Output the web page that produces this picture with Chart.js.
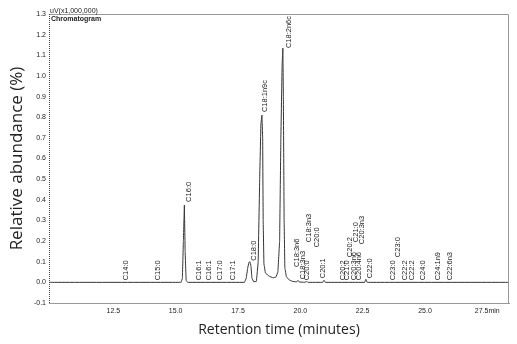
<!DOCTYPE html>
<html>
<head>
<meta charset="utf-8">
<script src="https://cdn.jsdelivr.net/npm/chart.js@4"></script>
<style>
  html, body { margin: 0; padding: 0; background: #fff; }
  #wrap { width: 517px; height: 344px; position: relative; }
</style>
</head>
<body>
<div id="wrap"><canvas id="gc"></canvas></div>
<script>
// ── Chromatogram trace ──────────────────────────────────────
const retentionTime = [
  9.92, 15.22, 15.27, 15.31, 15.35, 15.38, 15.42, 15.48,
  17.76, 17.83, 17.89, 17.94, 17.98, 18.02, 18.06, 18.13,
  18.24, 18.31, 18.37, 18.42, 18.46, 18.49, 18.51, 18.54, 18.60, 18.75, 18.90, 19.02,
  19.10, 19.17, 19.22, 19.27, 19.30, 19.32, 19.35, 19.38, 19.44, 19.55, 19.68,
  19.85, 19.90, 19.95, 20.20, 20.25, 20.30, 20.90, 20.95, 21.00,
  22.58, 22.63, 22.68, 28.37
];
const signal = [
  0, 0, 0.02, 0.20, 0.375, 0.15, 0.01, 0,
  0, 0.02, 0.07, 0.097, 0.10, 0.08, 0.02, 0.003,
  0.005, 0.10, 0.50, 0.77, 0.81, 0.70, 0.30, 0.09, 0.045, 0.03, 0.022, 0.025,
  0.05, 0.20, 0.70, 1.05, 1.135, 0.90, 0.30, 0.07, 0.028, 0.012, 0.005,
  0.002, 0.010, 0.002, 0, 0.006, 0, 0, 0.010, 0,
  0, 0.015, 0, 0
];

// ── Peak annotations ───────────────────────────────────────
const peakNames = [
  'C14:0', 'C15:0', 'C16:0', 'C16:1', 'C16:1', 'C17:0', 'C17:1', 'C18:0',
  'C18:1n9c', 'C18:2n6c', 'C18:3n6', 'C18:3n3', 'C20:0', 'C18:3n3', 'C20:0', 'C20:1',
  'C20:2', 'C21:0', 'C20:2', 'C20:3n6', 'C21:0', 'C20:4n6', 'C20:3n3', 'C22:0',
  'C23:0', 'C23:0', 'C22:2', 'C22:2', 'C24:0', 'C24:1n9', 'C22:6n3'
];
const peakLabelTime = [
  13.02, 14.27, 15.55, 15.94, 16.35, 16.79, 17.31, 18.15,
  18.60, 19.54, 19.88, 20.12, 20.28, 20.36, 20.68, 20.92,
  21.72, 21.88, 22.00, 22.16, 22.24, 22.36, 22.48, 22.80,
  23.72, 23.92, 24.20, 24.49, 24.93, 25.53, 26.01
];
const peakLabelLevel = [
  0.005, 0.005, 0.385, 0.005, 0.005, 0.005, 0.005, 0.10,
  0.82, 1.13, 0.07, 0.01, 0.005, 0.19, 0.165, 0.015,
  0.005, 0.005, 0.117, 0.005, 0.19, 0.005, 0.18, 0.015,
  0.005, 0.117, 0.005, 0.005, 0.005, 0.005, 0.005
];

// ── Axes ───────────────────────────────────────────────────
const xTicks = [12.5, 15.0, 17.5, 20.0, 22.5, 25.0, 27.5];
const yTicks = [-0.1, 0.0, 0.1, 0.2, 0.3, 0.4, 0.5, 0.6, 0.7, 0.8, 0.9, 1.0, 1.1, 1.2, 1.3];

const SMALL = '"Liberation Sans", Arial, sans-serif';

const peakLabels = {
  id: 'peakLabels',
  afterDatasetsDraw(chart) {
    const { ctx, scales: { x, y }, chartArea: a } = chart;
    ctx.save();
    ctx.fillStyle = '#222';
    ctx.font = '7.5px ' + SMALL;
    ctx.textAlign = 'left';
    ctx.textBaseline = 'middle';
    peakNames.forEach((name, i) => {
      const px = x.getPixelForValue(peakLabelTime[i]);
      const py = y.getPixelForValue(peakLabelLevel[i]) - 1;
      ctx.save();
      ctx.translate(px, py);
      ctx.rotate(-Math.PI / 2);
      ctx.fillText(name, 0, 0);
      ctx.restore();
    });

    // frame (top / right) and dotted left axis
    ctx.strokeStyle = '#999';
    ctx.lineWidth = 1;
    ctx.beginPath();
    ctx.moveTo(a.left, a.top + 0.5);
    ctx.lineTo(a.right - 0.5, a.top + 0.5);
    ctx.lineTo(a.right - 0.5, a.bottom);
    ctx.stroke();
    ctx.strokeStyle = '#444';
    ctx.setLineDash([1, 1]);
    ctx.beginPath();
    ctx.moveTo(a.left + 0.5, a.top);
    ctx.lineTo(a.left + 0.5, a.bottom);
    ctx.stroke();
    ctx.setLineDash([]);

    // header text
    ctx.fillStyle = '#222';
    ctx.textAlign = 'left';
    ctx.textBaseline = 'alphabetic';
    ctx.font = '7px ' + SMALL;
    ctx.fillText('uV(x1,000,000)', a.left + 1, a.top - 1.5);
    ctx.font = 'bold 7px ' + SMALL;
    ctx.fillText('Chromatogram', a.left + 2, a.top + 7);
    ctx.restore();
  }
};

new Chart(document.getElementById('gc'), {
  type: 'scatter',
  data: {
    datasets: [{
      data: retentionTime.map((t, i) => ({ x: t, y: signal[i] })),
      showLine: true,
      borderColor: '#333',
      borderWidth: 1,
      pointRadius: 0,
      tension: 0.0001, // keeps Chart.js off its pixel-collapsing fast path
    }],
  },
  options: {
    responsive: true,
    maintainAspectRatio: false,
    animation: false,
    layout: { padding: { top: 14, right: 8, left: 0, bottom: 0 } },
    plugins: { legend: { display: false }, tooltip: { enabled: false } },
    scales: {
      x: {
        type: 'linear',
        min: 9.92,
        max: 28.37,
        afterBuildTicks: s => { s.ticks = xTicks.map(v => ({ value: v })); },
        afterFit: s => { s.height = 41; },
        grid: { display: false, drawTicks: false },
        border: { color: '#999' },
        ticks: {
          color: '#222',
          padding: 4,
          maxRotation: 0,
          font: { size: 7, family: SMALL },
          callback: v => v === 27.5 ? '27.5min' : v.toFixed(1),
        },
        title: {
          display: true,
          text: 'Retention time (minutes)',
          color: '#222',
          font: { size: 14, family: '"Open Sans", sans-serif' },
          padding: { top: 0, bottom: 6 },
        },
      },
      y: {
        min: -0.1,
        max: 1.3,
        afterBuildTicks: s => { s.ticks = yTicks.map(v => ({ value: v })); },
        afterFit: s => { s.width = 49; },
        grid: { display: false, drawTicks: false },
        border: { display: false },
        ticks: {
          color: '#222',
          padding: 3,
          font: { size: 7, family: SMALL },
          callback: v => v.toFixed(1),
        },
        title: {
          display: true,
          text: 'Relative abundance (%)',
          color: '#222',
          font: { size: 17, family: '"Open Sans", sans-serif' },
          padding: { top: 7, bottom: 0 },
        },
      },
    },
  },
  plugins: [peakLabels],
});
</script>
</body>
</html>
